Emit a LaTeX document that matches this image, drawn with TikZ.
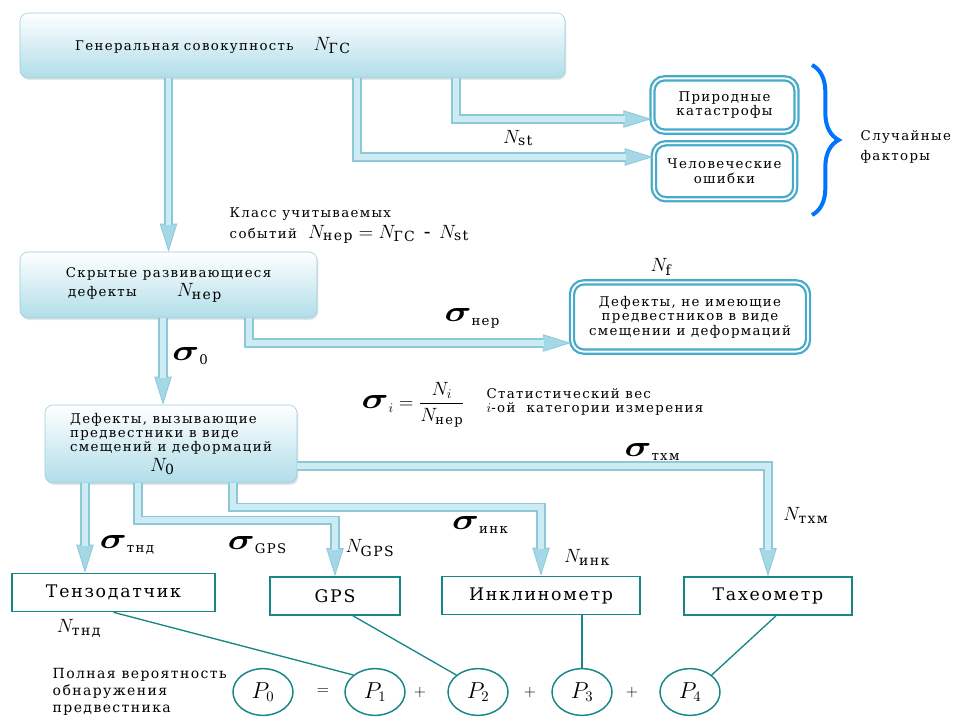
\documentclass[tikz,border=0pt]{standalone}
\usepackage{amsmath}
\usepackage{graphicx}
\usepackage{fontspec}
\setmainfont{DejaVu Serif}[LetterSpace=10]
\usetikzlibrary{arrows.meta, positioning, shapes.geometric, decorations.pathreplacing, shadows}

\definecolor{boxedge}{RGB}{150,205,220}
\definecolor{boxlow}{RGB}{176,221,233}
\definecolor{pipeedge}{RGB}{140,200,216}
\definecolor{pipefill}{RGB}{204,235,243}
\definecolor{pipetip}{RGB}{165,216,230}
\definecolor{ringblue}{RGB}{70,170,202}
\definecolor{sensteal}{RGB}{22,134,134}
\definecolor{bracecol}{RGB}{0,115,255}

% sigma with a small upright index, N with an index
\newcommand{\sgm}[1]{{\fontsize{10}{12}\selectfont\scalebox{2.8}[2.2]{$\boldsymbol{\sigma}$}\raisebox{-3pt}{#1}}}
\newcommand{\Nx}[1]{{\fontsize{15}{16}\selectfont$N_{\text{#1}}$}}

\begin{document}
\begin{tikzpicture}[
  x=0.75pt, y=-0.75pt,
  font=\fontsize{10}{11}\selectfont,
  blk/.style={draw=boxedge, rounded corners=6pt, top color=white, bottom color=boxlow,
    drop shadow={opacity=0.2, shadow xshift=1pt, shadow yshift=-1.5pt}, align=left},
  ring/.style={draw=ringblue, double=white, double distance=1.4pt, line width=1.7pt,
    rounded corners=9pt, fill=white, align=center},
  sens/.style={draw=sensteal, line width=1.2pt, fill=white, minimum height=28.5pt,
    font=\fontsize{13}{15}\selectfont},
  pcirc/.style={ellipse, draw=sensteal, line width=1.1pt, minimum width=45pt,
    minimum height=35pt, inner sep=0pt, font=\fontsize{16}{18}\selectfont},
  pipe/.style={draw=pipeedge, line width=6.8pt,
    -{Triangle[length=21pt, width=13pt, line width=0.6pt, fill=pipetip]},
    postaction={draw=pipefill, line width=4.4pt, -, shorten >=20pt}},
  wire/.style={draw=sensteal, line width=1pt},
  lbl/.style={inner sep=1pt}
]
  \useasboundingbox (0,0) rectangle (957,717);

  % general population and random factors
  \node[blk, minimum width=408.75pt, minimum height=48.75pt, text width=326pt, inner xsep=41pt] (gen) at (292.5,45.5)
    {Генеральная совокупность\hspace{15pt}\Nx{ГС}};
  \node[ring, minimum width=108pt, minimum height=40pt] (nat) at (724.5,105) {Природные\\катастрофы};
  \node[ring, minimum width=106pt, minimum height=42pt, below=7pt of nat] (hum) {Человеческие\\ ошибки};
  \draw[bracecol, line width=3pt, decorate, decoration={brace, amplitude=20pt}] (812,65) -- (812,215);
  \node[anchor=west, align=left, font=\fontsize{10}{15}\selectfont] (rand) at (856,147) {Случайные\\факторы};
  \draw[pipe] (gen.south -| 456,0) |- (nat.west |- 0,119);
  \draw[pipe] (gen.south -| 357,0) |- (hum.west |- 0,157);
  \node[lbl] (nst) at (518,138) {\Nx{st}};

  % hidden defects
  \node[blk, minimum width=222.75pt, minimum height=49.5pt] (sk) at (168.5,285)
    {Скрытые развивающиеся\\[1pt] \,дефекты\hspace{30pt}\Nx{нер}};
  \draw[pipe] (gen.south -| sk.north) -- (sk.north);
  \node[anchor=west, align=left] (cls) at (225,226)
    {Класс учитываемых\\[2pt]событий \ {\fontsize{15}{16}\selectfont$N_{\text{нер}} = N_{\text{ГС}}$ - $N_{\text{st}}$}};
  \node[ring, minimum width=177pt, minimum height=52pt] (nf) at (690,317)
    {Дефекты, не имеющие\\предвестников в виде\\смещении и деформаций};
  \node[lbl] (nflbl) at (661,267) {\Nx{f}};
  \draw[pipe] (sk.south -| 249,0) |- (nf.west |- 0,343);
  \node[lbl] (signer) at (472,318) {\sgm{нер}};

  % defects with precursors
  \node[blk, minimum width=189pt, minimum height=58.5pt, font=\fontsize{10}{10.5}\selectfont] (dfx) at (171,444)
    {Дефекты, вызывающие\\предвестники в виде\\смещений и деформаций\\[2pt] \hspace*{60pt}\Nx{0}};
  \draw[pipe] (sk.south -| 163,0) -- (dfx.north -| 163,0);
  \node[lbl] (sig0) at (190,356) {\sgm{0}};
  \node[lbl, anchor=west] (sigi) at (360,405)
    {\sgm{$i$} {\fontsize{14}{15}\selectfont$=\dfrac{N_i}{N_{\text{нер}}}$}};
  \node[anchor=west, align=left] (wt) at (482,402) {Статистический вес\\$i$-ой\ \ категории измерения};

  % measuring instruments
  \node[sens, minimum width=152.25pt] (tnd) at (113.5,592.5) {Тензодатчик};
  \node[sens, minimum width=97.5pt] (gps) at (335,596) {GPS};
  \node[sens, minimum width=148.5pt] (ink) at (541,595.5) {Инклинометр};
  \node[sens, minimum width=126pt] (tah) at (768,596) {Тахеометр};
  \draw[pipe] (dfx.south -| 85,0) -- (tnd.north -| 85,0);
  \draw[pipe] (dfx.south -| 138,0) -- ++(0,37) -| (gps.north);
  \draw[pipe] (dfx.south -| 233,0) -- ++(0,24) -| (ink.north);
  \draw[pipe] (dfx.east |- 0,466) -| (tah.north);
  \node[lbl] (sigtnd) at (127,545) {\sgm{тнд}};
  \node[lbl] (siggps) at (257,545) {\sgm{GPS}};
  \node[lbl] (ngps) at (370,548) {\Nx{GPS}};
  \node[lbl] (sigink) at (480,525) {\sgm{инк}};
  \node[lbl] (nink) at (587,557) {\Nx{инк}};
  \node[lbl] (sigtah) at (652,452) {\sgm{тхм}};
  \node[lbl] (ntah) at (806,515) {\Nx{тхм}};
  \node[lbl] (ntnd) at (79,628) {\Nx{тнд}};

  % total probability
  \node[anchor=west, align=left, font=\fontsize{10.5}{13}\selectfont] (full) at (48,692)
    {Полная вероятность\\ обнаружения\\ предвестника};
  \node[pcirc] (p0) at (263,692) {$P_0$};
  \foreach \i/\x in {1/375, 2/478, 3/582, 4/690}
    \node[pcirc] (p\i) at (\x,692) {$P_{\i}$};
  \node[font=\fontsize{13}{14}\selectfont] (eq) at (323,692) {$=$};
  \foreach \i/\x in {1/420, 2/530, 3/632}
    \node[font=\fontsize{13}{14}\selectfont] (pl\i) at (\x,692) {$+$};
  \draw[wire] (tnd.south) -- (p1.north west);
  \draw[wire] (gps.south -| 353,0) -- (p2.north west);
  \draw[wire] (p3.north |- ink.south) -- (p3.north);
  \draw[wire] (tah.south -| 776,0) -- (p4.north east);
\end{tikzpicture}
\end{document}
